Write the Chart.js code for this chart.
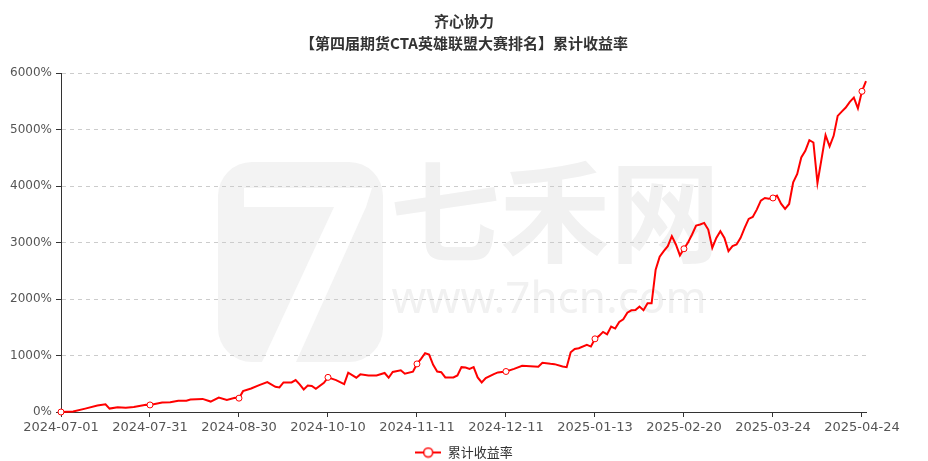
<!DOCTYPE html>
<html>
<head>
<meta charset="utf-8">
<script src="https://cdn.jsdelivr.net/npm/chart.js@4"></script>
<style>
    html, body { margin: 0; padding: 0; background: #ffffff; }
    #wrap { width: 928px; height: 461px; position: relative; }
</style>
</head>
<body>
<div id="wrap"><canvas id="returnChart"></canvas></div>
<script>
// Cumulative return of 齐心协力
const titleLines = ['齐心协力', '【第四届期货CTA英雄联盟大赛排名】累计收益率'];
const seriesName = '累计收益率';

// tick labels sit on every 22nd trading day (day 0, 22, 44, ...)
const xTickLabels = ['2024-07-01', '2024-07-31', '2024-08-30', '2024-10-10', '2024-11-11',
    '2024-12-11', '2025-01-13', '2025-02-20', '2025-03-24', '2025-04-24'];
const tickEvery = 22;
const lastDay = 199;

const yTicks = [0, 1000, 2000, 3000, 4000, 5000, 6000];

// trading-day index of each reading
const dayIndex = [
    0, 3, 6, 9, 11, 12, 14, 16, 18, 21, 22, 25, 27, 29, 31, 32, 35, 37, 39, 41, 43,
    44, 45, 47, 49, 51, 53, 54, 55, 57, 58, 59, 60, 61, 62, 63, 65,
    66, 68, 70, 71, 73, 74, 76, 78, 80, 81, 82, 84, 85, 87,
    88, 89, 90, 91, 92, 93, 94, 95, 97, 98, 99, 100, 101, 102, 103, 104, 105, 107, 108,
    110, 112, 114, 116, 118, 119, 121, 122, 124, 125, 126, 127, 128, 130, 131,
    132, 133, 134, 135, 136, 137, 138, 139, 140, 141, 142, 143, 144, 145, 146, 147, 148, 149, 150, 151, 152, 153,
    154, 155, 156, 157, 158, 159, 160, 161, 162, 163, 164, 165, 166, 167, 168, 169, 170, 171, 172, 173, 174, 175,
    176, 177, 178, 179, 180, 181, 182, 183, 184, 185, 186, 187, 188, 189, 190, 191, 192, 193, 194, 195, 196, 197,
    198, 199
];

// cumulative return, %
const cumReturn = [
    0, 8, 60, 115, 137, 60, 85, 77, 90, 130, 125, 167, 172, 200, 200, 220, 232, 185, 256, 214, 250,
    245, 369, 416, 476, 530, 446, 434, 524, 524, 565, 488, 399, 470, 460, 410, 518,
    613, 565, 494, 696, 607, 666, 648, 648, 690, 607, 708, 738, 678, 714,
    851, 940, 1040, 1015, 835, 717, 705, 611, 611, 647, 794, 788, 764, 794, 611, 523, 600, 670, 700,
    717, 764, 817, 811, 800, 870, 853, 847, 805, 794, 1058, 1117, 1129, 1188, 1158,
    1295, 1347, 1418, 1376, 1512, 1477, 1594, 1641, 1759, 1800, 1806, 1865, 1800, 1924, 1924, 2520, 2748, 2847, 2936, 3112, 2965, 2771,
    2889, 3000, 3141, 3300, 3318, 3347, 3229, 2906, 3082, 3200, 3082, 2847, 2935, 2965, 3082, 3259, 3417, 3453, 3582, 3741, 3788, 3776,
    3788, 3829, 3688, 3594, 3682, 4065, 4212, 4506, 4623, 4811, 4770, 4053, 4476, 4900, 4700, 4888, 5241, 5317, 5388, 5488, 5564, 5376,
    5676, 5858
];

const lineColor = '#ff0000';
const axisColor = '#333333';
const labelColor = '#555555';
const cjkFont = '"Noto Sans CJK SC", "Noto Sans", sans-serif';

// legend icon: short line with a hollow circle
function makeLegendIcon() {
    const c = document.createElement('canvas');
    c.width = 26;
    c.height = 12;
    const g = c.getContext('2d');
    g.strokeStyle = lineColor;
    g.lineWidth = 2;
    g.beginPath();
    g.moveTo(0, 6);
    g.lineTo(26, 6);
    g.stroke();
    g.fillStyle = '#ffffff';
    g.lineWidth = 1.5;
    g.beginPath();
    g.arc(13, 6, 4.5, 0, Math.PI * 2);
    g.fill();
    g.stroke();
    return c;
}
const legendIcon = makeLegendIcon();

// white background plus the faint site watermark (logo + text)
const backdrop = {
    id: 'backdrop',
    beforeDraw(chart) {
        const ctx = chart.ctx;
        ctx.save();
        ctx.fillStyle = '#ffffff';
        ctx.fillRect(0, 0, chart.width, chart.height);

        ctx.fillStyle = '#f3f3f3';
        ctx.beginPath();
        ctx.roundRect(218, 162, 165, 200, 34);
        ctx.fill();
        ctx.fillStyle = '#ffffff';
        ctx.beginPath();
        ctx.moveTo(244, 188);
        ctx.lineTo(372, 188);
        ctx.lineTo(366, 207);
        ctx.lineTo(244, 207);
        ctx.closePath();
        ctx.fill();
        ctx.beginPath();
        ctx.moveTo(334, 207);
        ctx.lineTo(366, 207);
        ctx.lineTo(296, 362);
        ctx.lineTo(262, 362);
        ctx.closePath();
        ctx.fill();

        ctx.fillStyle = '#f1f1f1';
        ctx.textAlign = 'center';
        ctx.textBaseline = 'middle';
        ctx.font = 'bold 110px ' + cjkFont;
        ctx.fillText('七禾网', 555, 212);
        ctx.font = '44px "Noto Sans", sans-serif';
        ctx.fillText('www.7hcn.com', 549, 300);
        ctx.restore();
    }
};

const points = dayIndex.map((d, i) => ({ x: d, y: cumReturn[i] }));

new Chart(document.getElementById('returnChart'), {
    type: 'line',
    data: {
        datasets: [{
            label: seriesName,
            data: points,
            borderColor: lineColor,
            backgroundColor: lineColor,
            borderWidth: 2,
            tension: 0,
            clip: false,
            pointRadius: ctx => (dayIndex[ctx.dataIndex] % tickEvery === 0 ? 3 : 0),
            pointBackgroundColor: '#ffffff',
            pointBorderColor: lineColor,
            pointBorderWidth: 1
        }]
    },
    options: {
        responsive: true,
        maintainAspectRatio: false,
        animation: false,
        events: [],
        layout: { padding: { left: 0, right: 0, top: 0, bottom: -8 } },
        scales: {
            x: {
                type: 'linear',
                min: 0,
                max: lastDay,
                afterBuildTicks: axis => {
                    axis.ticks = xTickLabels.map((_, k) => ({ value: k * tickEvery }));
                },
                afterFit: scale => { scale.height = 24; },
                ticks: {
                    autoSkip: false,
                    maxRotation: 0,
                    padding: 3,
                    color: labelColor,
                    font: { family: '"DejaVu Sans", sans-serif', size: 13 },
                    callback: v => xTickLabels[Math.round(v / tickEvery)] || ''
                },
                grid: { drawOnChartArea: false, tickLength: 5, tickColor: axisColor, color: axisColor },
                border: { color: axisColor, width: 1 }
            },
            y: {
                min: yTicks[0],
                max: yTicks[yTicks.length - 1],
                afterBuildTicks: axis => {
                    axis.ticks = yTicks.map(v => ({ value: v }));
                },
                afterFit: scale => { scale.width = 61; },
                ticks: {
                    padding: 4,
                    color: labelColor,
                    font: { family: '"DejaVu Sans", sans-serif', size: 12 },
                    callback: v => v + '%'
                },
                grid: { color: '#cccccc', tickLength: 5, tickColor: axisColor, tickBorderDash: [] },
                border: { color: axisColor, width: 1, dash: [4, 4] }
            },
            // empty right-hand gutter so title and legend stay centred on the canvas
            gutter: {
                type: 'linear',
                position: 'right',
                afterFit: scale => { scale.width = 62; },
                ticks: { display: false },
                grid: { display: false },
                border: { display: false }
            }
        },
        plugins: {
            title: {
                display: true,
                text: titleLines,
                color: '#333333',
                font: { family: cjkFont, size: 15, weight: 'bold', lineHeight: 1.5 },
                padding: { top: 10, bottom: 18 }
            },
            legend: {
                position: 'bottom',
                labels: {
                    usePointStyle: true,
                    pointStyleWidth: 26,
                    color: '#333333',
                    font: { family: cjkFont, size: 13 },
                    generateLabels: chart => [{
                        text: seriesName,
                        pointStyle: legendIcon,
                        fontColor: '#333333',
                        strokeStyle: lineColor,
                        fillStyle: '#ffffff',
                        lineWidth: 1,
                        datasetIndex: 0
                    }]
                }
            },
            tooltip: { enabled: false }
        }
    },
    plugins: [backdrop]
});
</script>
</body>
</html>
